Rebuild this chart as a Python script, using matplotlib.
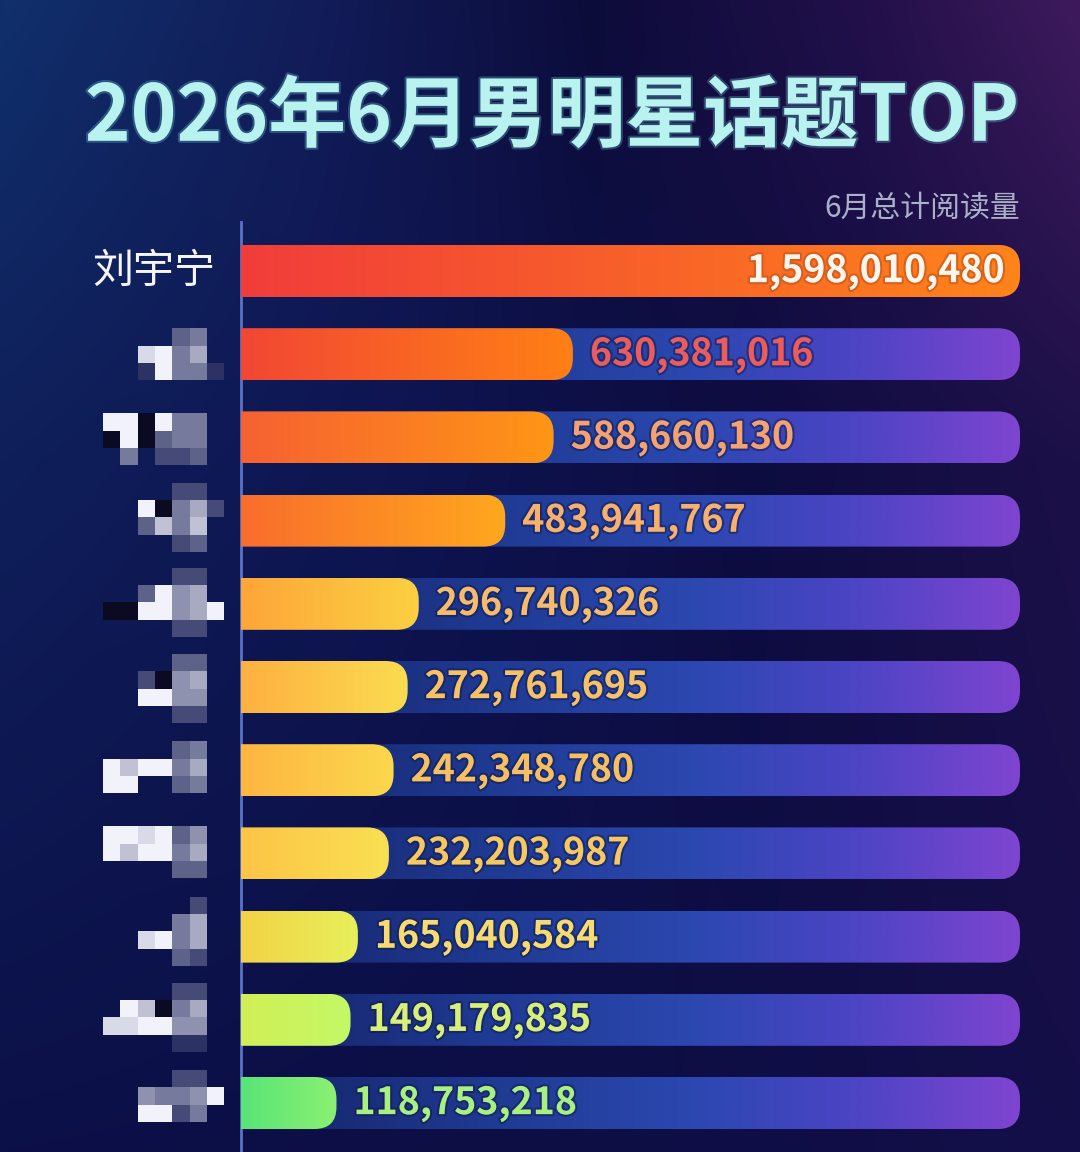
import numpy as np
import matplotlib
matplotlib.use("Agg")
import matplotlib.pyplot as plt
from matplotlib.patches import FancyBboxPatch, Rectangle
from matplotlib.colors import to_rgb
import matplotlib.patheffects as pe

plt.rcParams['font.family'] = ['Noto Sans CJK SC', 'DejaVu Sans']

# ---------------- data ----------------
title = "2026年6月男明星话题TOP"
subtitle = "6月总计阅读量"
names = ["刘宇宁", "", "", "", "", "", "", "", "", "", ""]   # other names are pixelated in the source
values = [1598010480, 630381016, 588660130, 483941767, 296740326, 272761695,
          242348780, 232203987, 165040584, 149179835, 118753218]
bar_start_colors = ["#f0393c", "#f04038", "#f55a35", "#f8642e", "#ff9c36", "#ffa63c",
                    "#ffad3e", "#ffbd42", "#f8c83e", "#d6ec50", "#42e07a"]
bar_end_colors = ["#ff8419", "#ff8015", "#ff9616", "#ffa81e", "#fbd042", "#fbdc50",
                  "#fbd84d", "#f8e052", "#e6f05a", "#c4f866", "#8cf072"]
label_colors = ["#fff6ee", "#ea5c5e", "#f5a272", "#f7b06e", "#f6bc6e", "#f6c268",
                "#f6c062", "#f6c862", "#f6dc70", "#d8f078", "#a8f082"]
# pixelation mosaics standing in for the blurred names (top offset px, rows of grey levels)
mosaics = [
    None,
    (-26, ["....34.", "..8946.", "..19441"]),
    (-24, ["990944.", "090344.", ".4.223."]),
    (-38, ["....22.", "..90462", "..3747.", "....23."]),
    (-36, ["....22.", "..3956.", "0099569", "....22."]),
    (-33, ["....33.", "..2056.", "..9955.", "....22."]),
    (-29, ["....34.", "979946.", "99..34."]),
    (-27, ["998935.", "979946.", "....33."]),
    (-40, [".....2.", "....46.", "..8946.", "....32."]),
    (-37, ["....22.", ".97046.", "889955.", "....11."]),
    (-33, ["....22.", "..54459", "..9924."]),
]

W, H = 1080, 1152
fig = plt.figure(figsize=(W / 100, H / 100), dpi=100)

# ---------------- background ----------------
bg = fig.add_axes([0, 0, 1, 1])
bg.set_xlim(0, W)
bg.set_ylim(H, 0)
bg.axis('off')

def hgrad(stops, n):
    xs = np.linspace(0, 1, n)
    fr = [s[0] for s in stops]
    cols = np.array([to_rgb(s[1]) for s in stops])
    return np.stack([np.interp(xs, fr, cols[:, k]) for k in range(3)], axis=-1)

top = hgrad([(0, "#10306c"), (0.3, "#121c58"), (0.55, "#0c0c3a"), (0.8, "#22104a"), (1, "#3e1a5c")], 540)
mid = hgrad([(0, "#0f1f5a"), (0.4, "#0e1450"), (0.7, "#0d0c40"), (1, "#1c1048")], 540)
bot = hgrad([(0, "#0c1048"), (0.5, "#0c0e44"), (1, "#140e48")], 540)
ys = np.linspace(0, 1, 576)[:, None, None]
img = np.where(ys < 0.4, top[None] * (1 - ys / 0.4) + mid[None] * (ys / 0.4),
               mid[None] * (1 - (ys - 0.4) / 0.6) + bot[None] * ((ys - 0.4) / 0.6))
bg.imshow(img, extent=(0, W, H, 0), aspect='auto', interpolation='bilinear', zorder=0)

# title & subtitle
bg.text(552, 118, title, ha='center', va='center', fontsize=56, fontweight='heavy',
        color='#b8f3ef', zorder=5,
        path_effects=[pe.withStroke(linewidth=3, foreground='#5fb6c4', alpha=0.35)])
bg.text(1020, 208, subtitle, ha='right', va='center', fontsize=21.5, fontweight='light',
        color='#aab0c8', zorder=5)

# ---------------- main axes ----------------
ax_left, ax_right, ax_top = 241, 1020, 222
ax = fig.add_axes([ax_left / W, 0, (ax_right - ax_left) / W, (H - ax_top) / H])
ax.patch.set_alpha(0)
for s in ['top', 'right', 'bottom']:
    ax.spines[s].set_visible(False)
ax.spines['left'].set_color('#5a72c8')
ax.spines['left'].set_linewidth(2)
ax.set_xticks([])
ax.set_yticks([])

n = len(values)
xmax = max(values)
xoff = 0.055 * xmax
row_px = 83.2
first_px = 271
ylo = -(first_px - ax_top) / row_px
yhi = (H - first_px) / row_px
ax.set_xlim(-xoff, xmax)
ax.set_ylim(yhi, ylo)

px_x = (xmax + xoff) / (ax_right - ax_left)   # data per pixel, x
px_y = 1 / row_px                               # data per pixel, y
bar_h = 52 * px_y
rad = 22

def grad_bar(x0, x1, yc, cols, zorder):
    rx, ry = rad * px_x, rad * px_y
    patch = FancyBboxPatch((x0, yc - bar_h / 2), x1 - x0, bar_h,
                           boxstyle=f"round,pad=0,rounding_size={rx}",
                           mutation_aspect=ry / rx, facecolor='none', edgecolor='none',
                           zorder=zorder)
    ax.add_patch(patch)
    im = ax.imshow(cols[None, :, :], extent=(x0, x1, yc + bar_h / 2, yc - bar_h / 2),
                   aspect='auto', interpolation='bilinear', zorder=zorder)
    im.set_clip_path(patch)

x_start = -xoff - 40 * px_x
track_cols = hgrad([(0, "#131e5e"), (0.35, "#1f3a92"), (0.6, "#2b48b0"),
                    (0.8, "#4c44c4"), (1, "#7e44d0")], 256)
for i, v in enumerate(values):
    grad_bar(x_start, xmax, i, track_cols, 2)
    bcols = hgrad([(0, bar_start_colors[i]), (1, bar_end_colors[i])], 256)
    grad_bar(x_start, v, i, bcols, 3)
    lbl = f"{v:,}"
    if i == 0:
        ax.text(v - 15 * px_x, i, lbl, ha='right', va='center', fontsize=27,
                fontweight='bold', color=label_colors[i], zorder=6,
                path_effects=[pe.withStroke(linewidth=3, foreground='#c0501a', alpha=0.6)])
    else:
        ax.text(v + 17 * px_x, i, lbl, ha='left', va='center', fontsize=27,
                fontweight='bold', color=label_colors[i], zorder=6,
                path_effects=[pe.withStroke(linewidth=3, foreground='#101848', alpha=0.5)])

ax.set_xlim(-xoff, xmax)
ax.set_ylim(yhi, ylo)

# ---------------- names ----------------
blk = 17.3
bgc = np.array(to_rgb("#131a50"))
wc = np.array(to_rgb("#f2f2fa"))
for i, nm in enumerate(names):
    yc = first_px + i * row_px
    if nm:
        bg.text(215, yc, nm, ha='right', va='center', fontsize=29.5, fontweight='medium',
                color='#f6f6fa', zorder=5)
    m = mosaics[i]
    if m is None:
        continue
    off, rows = m
    for r, line in enumerate(rows):
        for c, ch in enumerate(line):
            if ch == '.':
                continue
            lv = int(ch)
            col = "#0a0a22" if lv == 0 else tuple(bgc * (1 - lv / 9) + wc * (lv / 9))
            bg.add_patch(Rectangle((103 + c * blk, yc + off + r * blk), blk, blk,
                                   facecolor=col, edgecolor='none', zorder=4))

fig.savefig("out.png", dpi=100)
